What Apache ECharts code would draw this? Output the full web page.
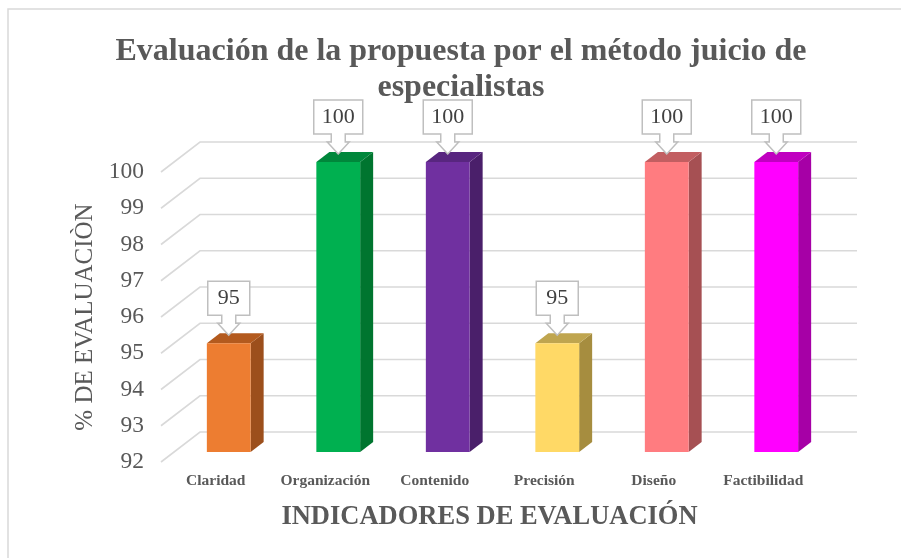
<!DOCTYPE html>
<html>
<head>
<meta charset="utf-8">
<script src="https://cdn.jsdelivr.net/npm/echarts@6/dist/echarts.min.js"></script>
<style>
html, body { margin: 0; padding: 0; background: #fff; }
#main { width: 901px; height: 558px; }
</style>
</head>
<body>
<div id="main"></div>
<script>
// datos
var categorias = ['Claridad', 'Organización', 'Contenido', 'Precisión', 'Diseño', 'Factibilidad'];
var valores = [95, 100, 100, 95, 100, 100];
var ticksY = [92, 93, 94, 95, 96, 97, 98, 99, 100];

// colores: frente, lado, tapa
var colores = [
  ['#ED7D31', '#9C4F1C', '#B35A1E'],
  ['#00B050', '#00752F', '#00873B'],
  ['#7030A0', '#4A1F6A', '#58267F'],
  ['#FFD966', '#A68D3F', '#BFA54F'],
  ['#FF7C80', '#A65053', '#C25E61'],
  ['#FF00FF', '#A600A6', '#C000C0']
];

// profundidad del efecto 3D (fondo respecto al plano frontal)
var DX = 39, DY = -30;
var fuente = '"Liberation Serif", "Times New Roman", serif';

var myechart = echarts.init(document.getElementById('main'));

function lineasFondo(params, api) {
  var cs = params.coordSys;
  var y = api.coord([0, api.value(1)])[1];
  return {
    type: 'polyline',
    shape: { points: [[cs.x, y], [cs.x + DX, y + DY], [cs.x + cs.width + DX, y + DY]] },
    style: { stroke: '#D9D9D9', lineWidth: 1.6, fill: null },
    silent: true
  };
}

function barras3d(params, api) {
  var i = api.value(0);
  var top = api.coord([i, api.value(1)]);
  var base = api.coord([i, 92]);
  var w = api.size([1, 0])[0] * 0.4;
  var fx = DX / 3, fy = DY / 3;
  var x0 = top[0] - w / 2 + fx, x1 = top[0] + w / 2 + fx;
  var yt = top[1] + fy, yb = base[1] + fy;
  var c = colores[i];
  return {
    type: 'group',
    children: [
      { type: 'polygon', shape: { points: [[x1, yt], [x1 + fx, yt + fy], [x1 + fx, yb + fy], [x1, yb]] }, style: { fill: c[1] } },
      { type: 'polygon', shape: { points: [[x0, yt], [x0 + fx, yt + fy], [x1 + fx, yt + fy], [x1, yt]] }, style: { fill: c[2] } },
      { type: 'rect', shape: { x: x0, y: yt, width: w, height: yb - yt }, style: { fill: c[0] } }
    ]
  };
}

function etiquetas(params, api) {
  var i = api.value(0);
  var txt = String(api.value(1));
  var p = api.coord([i, api.value(1)]);
  var tx = p[0] + DX / 3, ty = p[1] + DY / 3 - 8;
  var hw = txt.length * 3.5 + 14;
  var pts = [
    [tx, ty], [tx - 11, ty - 12], [tx - 7, ty - 12], [tx - 7, ty - 20],
    [tx - hw, ty - 20], [tx - hw, ty - 54], [tx + hw, ty - 54], [tx + hw, ty - 20],
    [tx + 7, ty - 20], [tx + 7, ty - 12], [tx + 11, ty - 12]
  ];
  return {
    type: 'group',
    children: [
      { type: 'polygon', shape: { points: pts }, style: { fill: '#fff', stroke: '#BFBFBF', lineWidth: 1.5 } },
      { type: 'text', x: tx, y: ty - 37, style: { text: txt, fill: '#404040', font: '22px ' + fuente, align: 'center', verticalAlign: 'middle' } }
    ]
  };
}

myechart.setOption({
  animation: false,
  title: {
    text: 'Evaluación de la propuesta por el método juicio de\nespecialistas',
    left: 461,
    top: 34,
    padding: 0,
    textAlign: 'center',
    textStyle: { color: '#595959', fontFamily: fuente, fontSize: 32, fontWeight: 'bold', lineHeight: 36 }
  },
  graphic: [{
    type: 'rect',
    shape: { x: 8, y: 9, width: 1000, height: 1000 },
    style: { fill: null, stroke: '#D9D9D9', lineWidth: 1.5 },
    silent: true
  }],
  grid: { left: 161, right: 83, top: 172, bottom: 96 },
  xAxis: {
    type: 'category',
    data: categorias,
    axisLine: { show: false },
    axisTick: { show: false },
    axisLabel: { color: '#595959', fontFamily: fuente, fontSize: 15.5, fontWeight: 'bold', margin: 11, interval: 0 },
    name: 'INDICADORES DE EVALUACIÓN',
    nameLocation: 'middle',
    nameGap: 42,
    nameTextStyle: { color: '#595959', fontFamily: fuente, fontSize: 26.5, fontWeight: 'bold' }
  },
  yAxis: {
    type: 'value',
    min: 92,
    max: 100,
    interval: 1,
    splitLine: { show: false },
    axisLine: { show: false },
    axisTick: { show: false },
    axisLabel: { color: '#595959', fontFamily: fuente, fontSize: 23.5, margin: 17 },
    name: '% DE EVALUACIÒN',
    nameLocation: 'middle',
    nameGap: 63,
    nameTextStyle: { color: '#595959', fontFamily: fuente, fontSize: 25 }
  },
  series: [
    {
      type: 'custom',
      renderItem: lineasFondo,
      data: ticksY.map(function (v) { return [0, v]; }),
      clip: false,
      z: 1
    },
    {
      type: 'custom',
      renderItem: barras3d,
      data: valores.map(function (v, i) { return [i, v]; }),
      clip: false,
      z: 2
    },
    {
      type: 'custom',
      renderItem: etiquetas,
      data: valores.map(function (v, i) { return [i, v]; }),
      clip: false,
      z: 3
    }
  ]
});
</script>
</body>
</html>
